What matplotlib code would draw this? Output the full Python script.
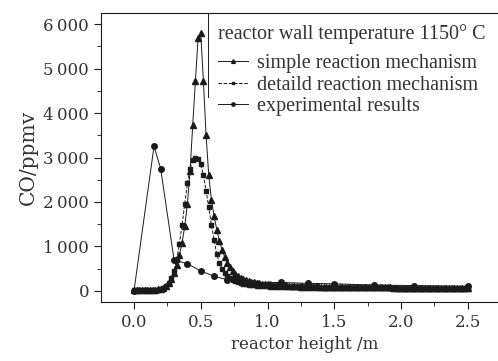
import numpy as np
import matplotlib.pyplot as plt
from matplotlib.ticker import MultipleLocator, FuncFormatter

# reactor height grid (m), 0.02 m step
height = np.round(np.arange(0, 2.501, 0.02), 2)

simple = [20, 20, 20, 20, 20, 20, 25, 25, 30, 35, 40,
          60, 100, 170, 270, 400, 580, 800, 1080, 1450, 1950,
          2700, 3730, 4720, 5680, 5790, 4720, 3500, 2600, 2050, 1680,
          1380, 1120, 920, 760, 630, 530, 450, 390, 340, 300,
          270, 245, 225, 208, 195, 183, 173, 165, 158, 152,
          147, 142, 138, 134, 130, 127, 124, 121, 118, 116,
          114, 112, 110, 108, 106, 104, 102, 101, 100, 98,
          97, 96, 95, 94, 93, 92, 91, 90, 89, 88,
          87, 86, 85, 85, 84, 83, 82, 82, 81, 80,
          80, 79, 78, 78, 77, 77, 76, 76, 75, 75,
          74, 74, 73, 73, 72, 72, 72, 71, 71, 70,
          70, 70, 69, 69, 69, 68, 68, 68, 67, 67,
          67, 66, 66, 66, 65]

detailed = [10, 10, 10, 10, 10, 10, 15, 15, 20, 30, 40,
            60, 100, 170, 280, 450, 700, 1050, 1480, 1950, 2420,
            2750, 2950, 2980, 2960, 2850, 2600, 2250, 1880, 1480, 1150,
            820, 630, 500, 410, 340, 290, 250, 220, 195, 175,
            160, 148, 138, 130, 123, 117, 112, 107, 103, 100,
            97, 94, 92, 90, 88, 86, 84, 82, 80, 79,
            77, 76, 75, 74, 73, 72, 71, 70, 69, 68,
            67, 66, 66, 65, 64, 64, 63, 62, 62, 61,
            61, 60, 60, 59, 59, 58, 58, 57, 57, 57,
            56, 56, 55, 55, 55, 54, 54, 54, 53, 53,
            53, 52, 52, 52, 51, 51, 51, 50, 50, 50,
            50, 49, 49, 49, 48, 48, 48, 48, 47, 47,
            47, 46, 46, 46, 45]

exp_height = [0.0, 0.15, 0.2, 0.3, 0.4, 0.5, 0.6, 0.7, 0.9, 1.1, 1.3, 1.5, 1.8, 2.1, 2.5]
exp_co = [0, 3250, 2750, 700, 610, 450, 330, 250, 180, 190, 170, 160, 130, 120, 100]

labels = ['simple reaction mechanism', 'detaild reaction mechanism', 'experimental results']
legend_title = 'reactor wall temperature 1150° C'

plt.rcParams['font.family'] = ['DejaVu Serif']
ink = '#1a1a1a'
txt = '#333333'

fig = plt.figure(figsize=(4.98, 3.61), dpi=100)
ax = fig.add_axes([0.2028, 0.1634, 0.817, 0.8006])

p1, = ax.plot(height, simple, '-', color=ink, lw=0.7, marker='^', ms=4.5, label=labels[0])
p2, = ax.plot(height, detailed, '--', color=ink, lw=0.7, marker='s', ms=3.5, label=labels[1])
p3, = ax.plot(exp_height, exp_co, '-', color=ink, lw=0.7, marker='o', ms=4, label=labels[2])

# thin vertical bar beside the legend
ax.axvline(0.555, ymin=0.709, ymax=1.0, color=ink, lw=0.7)

ax.set_xlim(-0.247, 2.80)
ax.set_ylim(-250, 6250)
ax.xaxis.set_major_locator(MultipleLocator(0.5))
ax.xaxis.set_minor_locator(MultipleLocator(0.25))
ax.yaxis.set_major_locator(MultipleLocator(1000))
ax.yaxis.set_minor_locator(MultipleLocator(500))
ax.xaxis.set_major_formatter(FuncFormatter(lambda v, p: f'{v:.1f}'))
ax.yaxis.set_major_formatter(FuncFormatter(
    lambda v, p: f'{int(v):,}'.replace(',', '\u2009') if v >= 1000 else f'{int(v)}'))
ax.tick_params(which='both', direction='out', color=ink, labelcolor=txt, labelsize=12)
ax.tick_params(which='major', length=5)
ax.tick_params(which='minor', length=3)
for s in ax.spines.values():
    s.set_color(ink)
    s.set_linewidth(0.8)

ax.set_xlabel('reactor height /m', fontsize=12, color=txt, labelpad=4)
ax.set_ylabel('CO/ppmv', fontsize=14.5, color=txt, labelpad=4)

# legend title drawn as its own text so the gap below it matches
fig.text(218 / 498, 1 - 34 / 361, legend_title, family='Liberation Serif',
         fontsize=14.5, color=txt, ha='left', va='center')
leg = ax.legend(handles=[p1, p2, p3], loc='upper left',
                bbox_to_anchor=(218 / 498, 1 - 54 / 361), bbox_transform=fig.transFigure,
                frameon=False, handlelength=1.5, handletextpad=0.45, markerscale=0.6,
                labelspacing=0.12, borderpad=0, borderaxespad=0,
                prop={'family': 'Liberation Serif', 'size': 14.5})
for t in leg.get_texts():
    t.set_color(txt)

fig.savefig('out.png', dpi=100)
